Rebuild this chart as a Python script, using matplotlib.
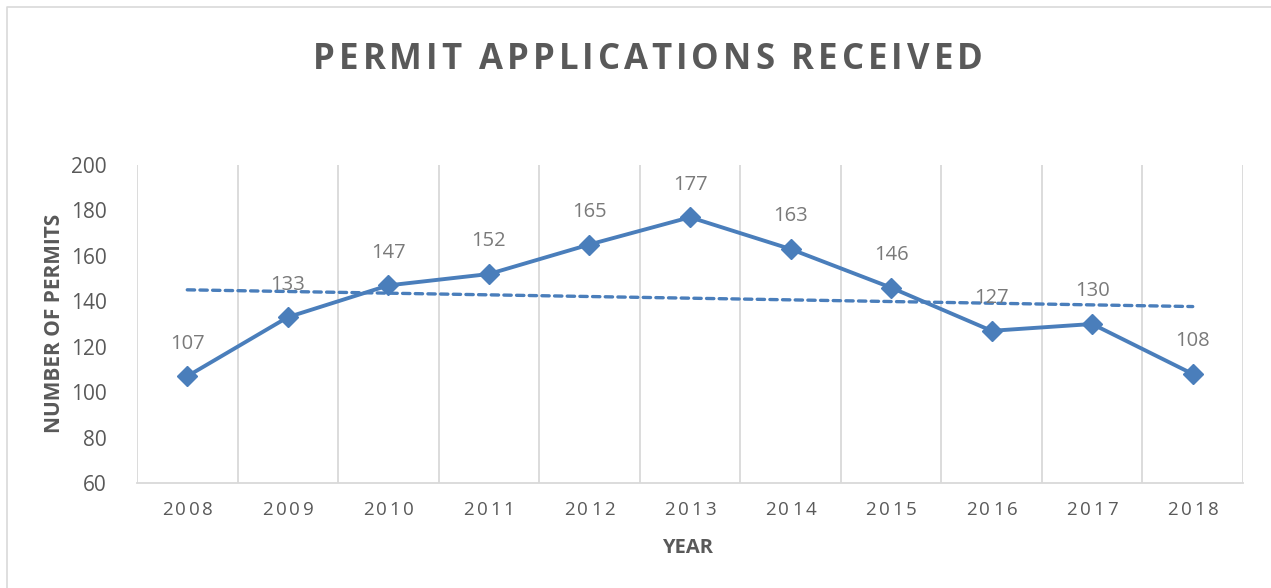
import numpy as np
import matplotlib
matplotlib.use("Agg")
import matplotlib.pyplot as plt
from matplotlib.lines import Line2D

years = ["2008", "2009", "2010", "2011", "2012", "2013", "2014", "2015", "2016", "2017", "2018"]
permits = [107, 133, 147, 152, 165, 177, 163, 146, 127, 130, 108]
yticks = [60, 80, 100, 120, 140, 160, 180, 200]

W, H = 1271, 588
DPI = 100
plt.rcParams['font.family'] = ['Open Sans', 'DejaVu Sans']

fig = plt.figure(figsize=(W / DPI, H / DPI), dpi=DPI)
ax = fig.add_axes([137 / W, 1 - 483 / H, (1243 - 137) / W, (483 - 165) / H])

LINE = '#4a7ebb'
GRID = '#d9d9d9'
TXT = '#595959'

x = np.arange(len(years))
ax.plot(x, permits, color=LINE, lw=2.8, marker='D', ms=10, zorder=4,
        solid_joinstyle='round')

# linear trendline
coef = np.polyfit(x, permits, 1)
ax.plot(x, np.polyval(coef, x), color=LINE, lw=2.4, linestyle=(0, (2.2, 1.6)),
        dash_capstyle='round', zorder=3)

for xi, v in zip(x, permits):
    ax.annotate(str(v), (xi, v), xytext=(0, 23.5), textcoords='offset points',
                ha='center', va='center', fontsize=14.5, color='#7a7a7a', zorder=5)

ax.set_xlim(-0.5, len(years) - 0.5)
ax.set_ylim(60, 200)
ax.set_yticks(yticks)
ax.set_yticklabels([str(t) for t in yticks], fontsize=15, color=TXT)
ax.set_xticks([])
for b in np.arange(-0.5, len(years), 1.0):
    ax.axvline(b, color=GRID, lw=1.3, zorder=1)
for s in ['top', 'right', 'left']:
    ax.spines[s].set_visible(False)
ax.spines['bottom'].set_color(GRID)
ax.spines['bottom'].set_linewidth(1.3)
ax.tick_params(axis='y', length=0, pad=22)

renderer = fig.canvas.get_renderer()


def spaced_text(s, xc, yc, spacing, **kw):
    """Draw text centered at pixel (xc, yc) with extra letter spacing (px)."""
    def width(txt):
        t = fig.text(0, 0, txt, **kw)
        w = t.get_window_extent(renderer).width
        t.remove()
        return w
    widths = []
    for ch in s:
        if ch == ' ':
            widths.append(width('x x') - width('xx'))
        else:
            widths.append(width(ch))
    total = sum(widths) + spacing * (len(s) - 1)
    xpos = xc - total / 2
    for ch, w in zip(s, widths):
        if ch != ' ':
            fig.text(xpos / W, 1 - yc / H, ch, ha='left', va='center', **kw)
        xpos += w + spacing


# x tick labels (letter-spaced)
for xi, lab in zip(x, years):
    px = ax.transData.transform((xi, 0))[0]
    spaced_text(lab, px, 510, 2.8, fontsize=13.5, color=TXT)

# title
spaced_text("PERMIT APPLICATIONS RECEIVED", 648, 60, 4.0, fontsize=25,
            fontweight='bold', color=TXT)

fig.text(55 / W, 1 - 323.5 / H, "NUMBER OF PERMITS", rotation=90, ha='center',
         va='center', fontsize=15, fontweight='bold', color=TXT)
fig.text(688 / W, 1 - 548 / H, "YEAR", ha='center', va='center', fontsize=14.5,
         fontweight='bold', color=TXT)

# chart border (top and left visible)
fig.add_artist(Line2D([7 / W, 7 / W, 1.0], [0.0, 1 - 7 / H, 1 - 7 / H],
                      transform=fig.transFigure, color='#d9d9d9', lw=1.2))

fig.savefig('out.png', dpi=DPI, facecolor='white')
